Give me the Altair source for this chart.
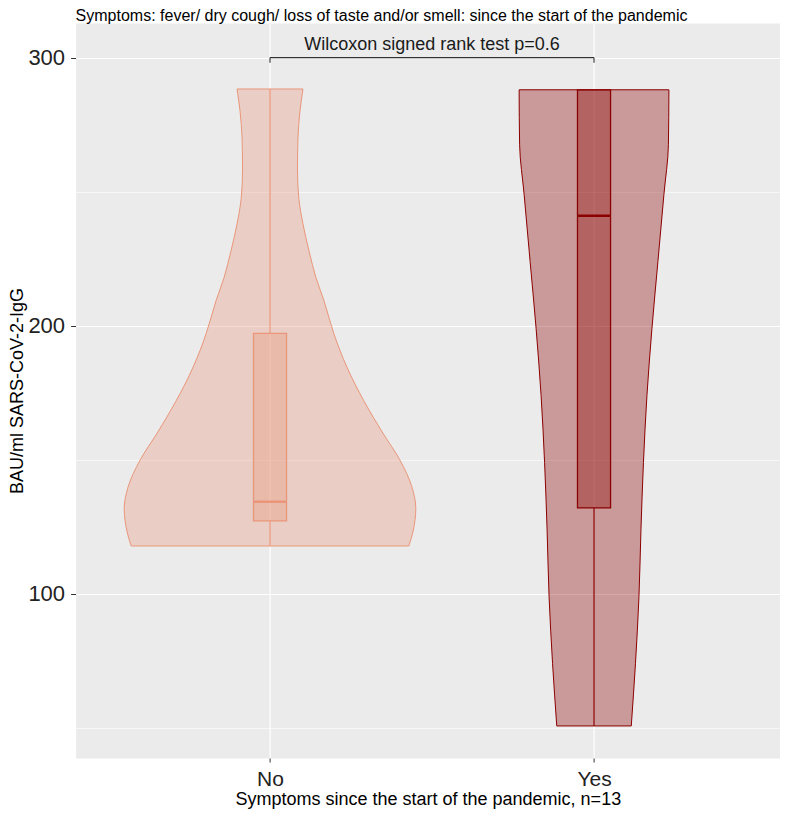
import altair as alt
import pandas as pd

# ---------------- data ----------------
categories = ["No", "Yes"]
cat_pos = [1, 2]
colors = ["#E9967A", "#8B0000"]

# violin outlines: BAU/ml value and (relative) density
no_values = [117.9, 123, 131.9, 140, 150, 160, 172, 184.6, 197, 209.4, 218, 228, 238, 247, 258, 270, 280, 288.3]
no_density = [139, 143, 146, 142, 130, 113, 94, 77, 64, 54, 46, 39, 33, 29, 27.5, 28, 30, 33]
yes_values = [50.8, 74, 99, 124, 149, 174, 199, 224, 249, 267.5, 288]
yes_density = [37.3, 41.5, 45, 47, 49.5, 53, 58, 64, 70, 74.5, 75]

# boxplot statistics
q1 = [127.3, 132.1]
median = [134.4, 241.0]
q3 = [197.2, 288.0]
whisker_lo = [117.9, 50.8]
whisker_hi = [288.3, 288.0]

test_label = "Wilcoxon signed rank test p=0.6"
bracket_y = 300
bracket_tip = 298.1
label_y = 303

y_ticks = [50, 100, 150, 200, 250, 300]

title_text = "Symptoms: fever/ dry cough/ loss of taste and/or smell: since the start of the pandemic"
x_title = "Symptoms since the start of the pandemic, n=13"
y_title = "BAU/ml SARS-CoV-2-IgG"

# ---------------- tables ----------------
violin_df = pd.DataFrame({
    "group": [categories[0]] * len(no_values) + [categories[1]] * len(yes_values),
    "pos": [cat_pos[0]] * len(no_values) + [cat_pos[1]] * len(yes_values),
    "value": no_values + yes_values,
    "density": no_density + yes_density,
})
box_df = pd.DataFrame({
    "group": categories, "pos": cat_pos, "q1": q1, "median": median,
    "q3": q3, "lo": whisker_lo, "hi": whisker_hi,
})
bracket_df = pd.DataFrame({"x1": [cat_pos[0]], "x2": [cat_pos[1]], "y": [bracket_y],
                           "mid": [(cat_pos[0] + cat_pos[1]) / 2], "ly": [label_y], "label": [test_label]})
tips_df = pd.DataFrame({"x": cat_pos, "y": [bracket_y] * 2, "y2": [bracket_tip] * 2})

# ---------------- scales / axes ----------------
xscale = alt.Scale(domain=[0.4, 2.574], nice=False, zero=False)
yscale = alt.Scale(domain=[38.85, 312.9], nice=False, zero=False)
label_expr_x = "[" + ",".join("'%s'" % c for c in categories) + "][datum.value-1]"

xaxis = alt.Axis(
    title=x_title, values=cat_pos, labelExpr=label_expr_x,
    grid=True, gridColor="white", gridWidth=1.2, domain=False,
    tickColor="#333333", tickSize=4, tickWidth=1,
    labelFontSize=21, labelPadding=6, labelColor="#222222",
    labelFlush=False, labelOverlap=False,
    titleFontSize=18, titlePadding=1, titleColor="black", titleFontWeight="normal",
)
yaxis = alt.Axis(
    title=y_title, values=y_ticks,
    labelExpr="datum.value % 100 === 0 ? datum.label : ''",
    grid=True, gridColor="white",
    gridWidth={"condition": {"test": "datum.value % 100 === 0", "value": 1.2}, "value": 0.6},
    tickOpacity={"condition": {"test": "datum.value % 100 === 0", "value": 1}, "value": 0},
    domain=False, tickColor="#333333", tickSize=5, tickWidth=1,
    labelFontSize=22, labelPadding=6, labelColor="#222222",
    titleFontSize=18, titlePadding=1, titleColor="black", titleFontWeight="normal",
)


def X(field):
    return alt.X(field, type="quantitative", scale=xscale, axis=xaxis)


def Y(field):
    return alt.Y(field, type="quantitative", scale=yscale, axis=yaxis)


fill_enc = alt.Fill("group:N", scale=alt.Scale(domain=categories, range=colors), legend=None)
stroke_enc = alt.Stroke("group:N", scale=alt.Scale(domain=categories, range=colors), legend=None)

# ---------------- layers ----------------
violin = alt.Chart(violin_df).transform_joinaggregate(
    maxd="max(density)"
).transform_calculate(
    xl="datum.pos - 0.45 * datum.density / datum.maxd",
    xr="datum.pos + 0.45 * datum.density / datum.maxd",
).mark_area(orient="horizontal", interpolate="monotone", fillOpacity=0.35, strokeWidth=1).encode(
    y=Y("value"), x=X("xl"), x2="xr:Q", fill=fill_enc, stroke=stroke_enc, detail="group:N"
)

base = alt.Chart(box_df).transform_calculate(
    bl="datum.pos - 0.051", br="datum.pos + 0.051"
)
whisk_lo = base.mark_rule(strokeWidth=1.2).encode(x=X("pos"), y=Y("lo"), y2="q1:Q", stroke=stroke_enc)
whisk_hi = base.mark_rule(strokeWidth=1.2).encode(x=X("pos"), y=Y("q3"), y2="hi:Q", stroke=stroke_enc)
box = base.mark_rect(fillOpacity=0.35, strokeWidth=1.3).encode(
    x=X("bl"), x2="br:Q", y=Y("q1"), y2="q3:Q", fill=fill_enc, stroke=stroke_enc
)
med = base.mark_rule(strokeWidth=2.5).encode(x=X("bl"), x2="br:Q", y=Y("median"), stroke=stroke_enc)

bracket = alt.Chart(bracket_df).mark_rule(color="#333333", strokeWidth=1.1).encode(
    x=X("x1"), x2="x2:Q", y=Y("y")
)
tips = alt.Chart(tips_df).mark_rule(color="#333333", strokeWidth=1.1).encode(
    x=X("x"), y=Y("y"), y2="y2:Q"
)
label = alt.Chart(bracket_df).mark_text(fontSize=18, align="center", baseline="alphabetic",
                                         color="#1a1a1a").encode(
    x=X("mid"), y=Y("ly"), text="label:N"
)

chart = alt.layer(violin, whisk_lo, whisk_hi, box, med, bracket, tips, label).properties(
    width=704.4, height=735,
    title=alt.TitleParams(title_text, anchor="start", frame="group", fontSize=16,
                          fontWeight="normal", color="black", offset=-1),
    autosize=alt.AutoSizeParams(type="none"),
    padding={"left": 67.6, "top": 15, "right": 0, "bottom": 53},
).configure(
    font="Liberation Sans",
).configure_view(
    fill="#EBEBEB", strokeOpacity=0,
)

chart.save("out.html", embed_options={"renderer": "svg", "actions": False})
